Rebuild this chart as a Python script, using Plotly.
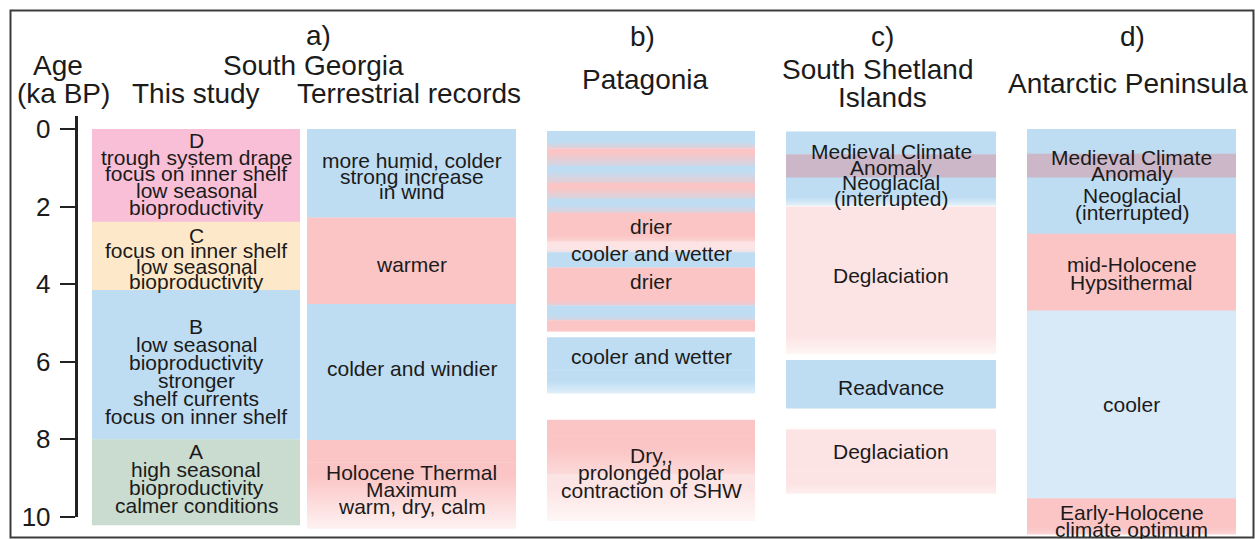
import plotly.graph_objects as go

W = 1255
REF_H = 539          # design space (pixels of the reference picture)
FIG_H = 554          # figure height (compensates the vertical squeeze of the capture)
Y0_PX, PX_PER_KA = 128.3, 38.84      # design-space pixel of age 0 and pixels per ka

# ---------------------------------------------------------------- data
age_ticks = [0, 2, 4, 6, 8, 10]

# a) South Georgia - this study (zones)
study_top = [0.0, 2.39, 4.15, 8.0]
study_bot = [2.39, 4.15, 8.0, 10.21]
study_c0 = ["zoneD", "zoneC", "cold", "zoneA"]
study_c1 = ["zoneD", "zoneC", "cold", "zoneA"]
study_text = ["D\ntrough system drape\nfocus on inner shelf\nlow seasonal\nbioproductivity",
              "C\nfocus on inner shelf\nlow seasonal\nbioproductivity",
              "B\nlow seasonal\nbioproductivity\nstronger\nshelf currents\nfocus on inner shelf",
              "A\nhigh seasonal\nbioproductivity\ncalmer conditions"]
study_text_age = [1.157, 3.339, 6.249, 9.016]

# a) South Georgia - terrestrial records
terr_top = [0.0, 2.28, 4.51, 8.02, 8.6]
terr_bot = [2.28, 4.51, 8.02, 8.6, 10.3]
terr_c0 = ["cold", "warm", "cold", "warm", "warm"]
terr_c1 = ["cold", "warm", "cold", "warm", "white"]
terr_text = ["more humid, colder\nstrong increase\nin wind", "warmer",
             "colder and windier", "Holocene Thermal\nMaximum\nwarm, dry, calm"]
terr_text_age = [1.220, 3.494, 6.172, 9.286]

# b) Patagonia
pat_top = [0.05, 0.22, 0.50, 0.95, 1.39, 1.80, 2.16, 2.57, 2.90, 3.18, 3.37, 3.57,
           4.19, 4.55, 4.93, 5.37, 6.22, 7.25, 7.50, 7.90, 8.90]
pat_bot = [0.22, 0.50, 0.95, 1.39, 1.80, 2.16, 2.57, 2.90, 3.18, 3.37, 3.57, 4.19,
           4.55, 4.93, 5.22, 6.22, 6.81, 7.50, 7.90, 8.90, 10.10]
pat_c0 = ["cold", "cold", "warm", "cold", "warm", "cold", "warm", "warm", "palewarm", "cold",
          "cold", "warm", "warm", "cold", "warm", "cold", "cold", "white", "warm", "warm",
          "palewarm"]
pat_c1 = ["cold", "warm", "cold", "warm", "cold", "warm", "warm", "palewarm", "cold", "cold",
          "warm", "warm", "cold", "warm", "white", "cold", "white", "warm", "warm",
          "palewarm", "white"]
pat_text = ["drier", "cooler and wetter", "drier", "cooler and wetter",
            "Dry,,\nprolonged polar\ncontraction of SHW"]
pat_text_age = [2.515, 3.211, 3.932, 5.863, 8.862]

# c) South Shetland Islands
ssi_top = [0.06, 0.65, 1.25, 1.62, 2.00, 5.10, 5.96, 7.35, 7.75, 8.80]
ssi_bot = [0.65, 1.25, 1.62, 1.97, 5.10, 5.80, 7.20, 7.75, 8.80, 9.40]
ssi_c0 = ["cold", "mca", "cold", "cold", "palewarm", "palewarm", "cold", "white",
          "palewarm", "palewarm"]
ssi_c1 = ["cold", "mca", "cold", "white", "palewarm", "white", "cold", "palewarm",
          "palewarm", "white"]
ssi_text = ["Medieval Climate\nAnomaly", "Neoglacial\n(interrupted)", "Deglaciation",
            "Readvance", "Deglaciation"]
ssi_text_age = [0.790, 1.589, 3.777, 6.661, 8.309]

# d) Antarctic Peninsula
ap_top = [0.0, 0.64, 1.25, 2.70, 4.68, 9.52, 9.90]
ap_bot = [0.64, 1.25, 2.70, 4.68, 9.52, 9.90, 10.45]
ap_c0 = ["cold", "mca", "cold", "warm", "palecold", "warm", "warm"]
ap_c1 = ["cold", "mca", "cold", "warm", "palecold", "warm", "white"]
ap_text = ["Medieval Climate\nAnomaly", "Neoglacial\n(interrupted)",
           "mid-Holocene\nHypsithermal", "cooler", "Early-Holocene\nclimate optimum"]
ap_text_age = [0.945, 1.936, 3.726, 7.099, 10.098]

# ---------------------------------------------------------------- styles / layout
PALETTE = {
    "cold": "rgb(190,221,243)",
    "palecold": "rgb(216,234,248)",
    "warm": "rgb(251,197,197)",
    "palewarm": "rgb(253,228,228)",
    "white": "rgb(255,255,255)",
    "mca": "rgb(203,183,199)",
    "zoneD": "rgb(249,191,214)",
    "zoneC": "rgb(253,232,201)",
    "zoneA": "rgb(201,220,207)",
}
FONT = "Liberation Sans, Arial, sans-serif"
TXT = "#1b1b1b"
COLS = {"study": (92, 300), "terr": (307, 516), "pat": (547, 755),
        "ssi": (786, 996), "ap": (1027, 1236)}
STEPS = {
    "study": [16.6, 15.3, 18.0, 18.3],
    "terr": [15.5, 0, 0, 17.0],
    "pat": [0, 0, 0, 0, 17.5],
    "ssi": [16.0, 16.0, 0, 0, 0],
    "ap": [16.0, 17.0, 18.0, 0, 17.0],
}
EPS = 0.01


def py(y):
    """design-space pixel (from top) -> paper fraction"""
    return 1 - y / REF_H


fig = go.Figure()


def add_bands(key, tops, bots, c0s, c1s):
    x0, x1 = COLS[key]
    for t, b, c0, c1 in zip(tops, bots, c0s, c1s):
        kw = dict(x=[x0, x1, x1, x0, x0], y=[t, t, b + EPS, b + EPS, t],
                  mode="lines", line=dict(width=0), fill="toself",
                  hoverinfo="skip", showlegend=False)
        if c0 == c1:
            kw["fillcolor"] = PALETTE[c0]
        else:
            kw["fillgradient"] = dict(type="vertical",
                                      colorscale=[[0, PALETTE[c0]], [1, PALETTE[c1]]],
                                      start=t, stop=b)
        fig.add_trace(go.Scatter(**kw))


def add_labels(key, texts, ages):
    x0, x1 = COLS[key]
    xc = (x0 + x1) / 2
    for text, age, step in zip(texts, ages, STEPS[key]):
        lines = text.split("\n")
        n = len(lines)
        for i, ln in enumerate(lines):
            dy = (i - (n - 1) / 2) * step / PX_PER_KA
            fig.add_annotation(x=xc, y=age + dy, xref="x", yref="y", text=ln,
                               showarrow=False, xanchor="center", yanchor="middle",
                               font=dict(family=FONT, size=21, color=TXT))


add_bands("study", study_top, study_bot, study_c0, study_c1)
add_bands("terr", terr_top, terr_bot, terr_c0, terr_c1)
add_bands("pat", pat_top, pat_bot, pat_c0, pat_c1)
add_bands("ssi", ssi_top, ssi_bot, ssi_c0, ssi_c1)
add_bands("ap", ap_top, ap_bot, ap_c0, ap_c1)

add_labels("study", study_text, study_text_age)
add_labels("terr", terr_text, terr_text_age)
add_labels("pat", pat_text, pat_text_age)
add_labels("ssi", ssi_text, ssi_text_age)
add_labels("ap", ap_text, ap_text_age)

# age axis (visible) on its own small subplot
fig.add_trace(go.Scatter(x=[0] * len(age_ticks), y=age_ticks, xaxis="x2", yaxis="y2",
                         mode="markers", marker=dict(opacity=0, size=1),
                         hoverinfo="skip", showlegend=False))

headers = [
    ("Age", 58, 65), ("(ka BP)", 63, 93), ("a)", 319, 35), ("South Georgia", 313, 65),
    ("This study", 196, 93), ("Terrestrial records", 409, 93),
    ("b)", 643, 36), ("Patagonia", 645, 79),
    ("c)", 882, 36), ("South Shetland", 878, 69), ("Islands", 882, 97),
    ("d)", 1132, 36), ("Antarctic Peninsula", 1128, 83),
]
for text, hx, hy in headers:
    fig.add_annotation(x=hx / W, y=py(hy), xref="paper", yref="paper", text=text,
                       showarrow=False, xanchor="center", yanchor="middle",
                       font=dict(family=FONT, size=28, color=TXT))

fig.add_shape(type="rect", xref="paper", yref="paper",
              x0=10.5 / W, x1=1253.5 / W, y0=py(537.5), y1=py(9.5),
              line=dict(color="#3c3c3c", width=2), fillcolor="rgba(0,0,0,0)")

top_age = -Y0_PX / PX_PER_KA
bot_age = (REF_H - Y0_PX) / PX_PER_KA
ax_top = (115 - Y0_PX) / PX_PER_KA
ax_bot = (517 - Y0_PX) / PX_PER_KA

fig.update_layout(
    width=W, height=FIG_H, autosize=False, margin=dict(l=0, r=0, t=0, b=0, pad=0),
    paper_bgcolor="white", plot_bgcolor="rgba(0,0,0,0)",
    xaxis=dict(range=[0, W], visible=False, fixedrange=True, domain=[0, 1]),
    yaxis=dict(range=[bot_age, top_age], visible=False, fixedrange=True, domain=[0, 1]),
    xaxis2=dict(domain=[77.5 / W, 79 / W], anchor="y2", visible=False, range=[0, 1],
                fixedrange=True),
    yaxis2=dict(domain=[py(517), py(115)], anchor="x2", range=[ax_bot, ax_top],
                tickvals=age_ticks, ticktext=[str(v) for v in age_ticks],
                ticks="outside", ticklen=15, tickwidth=2, tickcolor="#222",
                showline=True, linecolor="#222", linewidth=2.5, showgrid=False,
                zeroline=False, ticklabelstandoff=4, fixedrange=True,
                tickfont=dict(family=FONT, size=26, color=TXT)),
    showlegend=False,
)

fig.write_html("out.html", config={"displayModeBar": False})
